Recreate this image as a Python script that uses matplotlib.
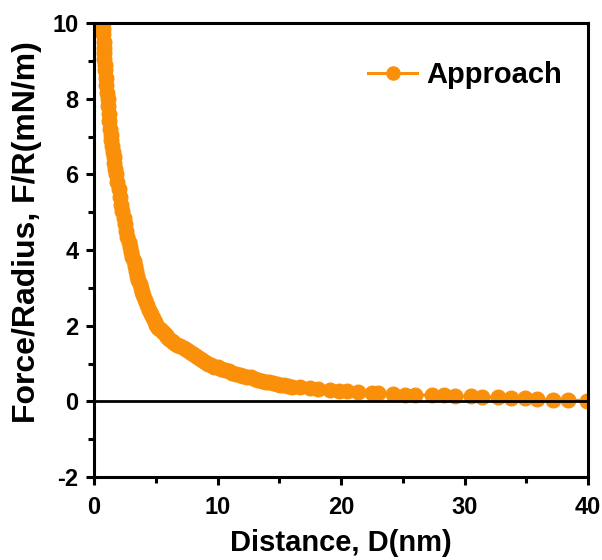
import matplotlib.pyplot as plt
from matplotlib.ticker import MultipleLocator

# approach curve
distance = [0.70, 0.72, 0.75, 0.78, 0.80, 0.83, 0.85, 0.88, 0.90, 0.95, 1.00, 1.05, 1.10,
            1.15, 1.20, 1.25, 1.30, 1.35, 1.40, 1.45, 1.50, 1.58, 1.65, 1.72, 1.80, 1.90,
            2.00, 2.10, 2.20, 2.30, 2.40, 2.50, 2.60, 2.70, 2.80, 2.90, 3.00, 3.10, 3.20,
            3.30, 3.40, 3.50, 3.60, 3.70, 3.80, 3.90, 4.00, 4.15, 4.30, 4.45, 4.60, 4.75,
            4.90, 5.05, 5.20, 5.35, 5.50, 5.65, 5.80, 5.95, 6.10, 6.30, 6.50, 6.75, 7.00,
            7.25, 7.50, 7.75, 8.00, 8.25, 8.50, 8.75, 9.00, 9.25, 9.50, 9.75, 10.0, 10.3,
            10.6, 10.9, 11.2, 11.5, 11.8, 12.1, 12.4, 12.7, 13.0, 13.3, 13.6, 13.9, 14.2,
            14.5, 14.8, 15.1, 15.4, 15.7, 16.0, 16.7, 17.5, 18.1, 19.1, 19.8, 20.5, 21.4,
            22.5, 23.0, 24.2, 25.2, 26.0, 27.4, 28.3, 29.2, 30.5, 31.4, 32.7, 33.8, 34.9,
            35.9, 37.2, 38.4, 39.9]
force = [10.0, 9.85, 9.70, 9.50, 9.35, 9.20, 9.05, 8.90, 8.75, 8.55, 8.35, 8.15, 8.00,
         7.80, 7.60, 7.40, 7.20, 7.05, 6.90, 6.75, 6.60, 6.45, 6.30, 6.15, 6.00, 5.80,
         5.60, 5.40, 5.20, 5.02, 4.85, 4.68, 4.50, 4.35, 4.20, 4.08, 3.95, 3.82, 3.70,
         3.57, 3.45, 3.32, 3.20, 3.10, 3.00, 2.90, 2.80, 2.68, 2.55, 2.42, 2.30, 2.20,
         2.10, 2.02, 1.95, 1.90, 1.85, 1.80, 1.75, 1.70, 1.65, 1.60, 1.55, 1.50, 1.45,
         1.40, 1.35, 1.30, 1.25, 1.20, 1.15, 1.10, 1.05, 1.00, 0.95, 0.92, 0.90, 0.86,
         0.83, 0.79, 0.76, 0.72, 0.70, 0.68, 0.65, 0.63, 0.60, 0.57, 0.55, 0.52, 0.50,
         0.48, 0.46, 0.44, 0.42, 0.40, 0.39, 0.37, 0.34, 0.32, 0.30, 0.28, 0.26, 0.24,
         0.22, 0.21, 0.19, 0.18, 0.17, 0.16, 0.16, 0.15, 0.13, 0.12, 0.11, 0.09, 0.08,
         0.05, 0.04, 0.03, 0.02]

orange = "#FA900A"

plt.rcParams['font.family'] = ['Liberation Sans', 'DejaVu Sans']
plt.rcParams['font.weight'] = 'bold'
plt.rcParams['axes.unicode_minus'] = False

fig = plt.figure(figsize=(6.02, 5.6), dpi=100)
ax = fig.add_axes([94 / 602, 1 - 477 / 560, 494 / 602, 454 / 560])

ax.plot(distance, force, "-o", color=orange, ms=10.5, lw=2.2, label="Approach")
ax.axhline(0, color="black", lw=2, zorder=3)

ax.set_xlim(0, 40)
ax.set_ylim(-2, 10)
ax.xaxis.set_major_locator(MultipleLocator(10))
ax.xaxis.set_minor_locator(MultipleLocator(5))
ax.yaxis.set_major_locator(MultipleLocator(2))
ax.yaxis.set_minor_locator(MultipleLocator(1))
ax.tick_params(which="major", direction="out", length=6, width=2.2, labelsize=17)
ax.tick_params(axis="y", which="major", pad=5)
ax.tick_params(axis="x", which="major", pad=8)
ax.tick_params(which="minor", direction="out", length=4, width=2.2)
for lab in ax.get_xticklabels() + ax.get_yticklabels():
    lab.set_fontweight("bold")
for sp in ax.spines.values():
    sp.set_linewidth(2.2)

ax.set_xlabel("Distance, D(nm)", fontsize=21, fontweight="bold", labelpad=7)
ax.set_ylabel("Force/Radius, F/R(mN/m)", fontsize=23, fontweight="bold")
ax.yaxis.set_label_coords(-0.105, 0.54)

leg = ax.legend(loc="center right", frameon=False, fontsize=21, handlelength=1.7,
                handletextpad=0.3, borderpad=0, borderaxespad=0,
                bbox_to_anchor=(0.947, 0.885), markerscale=0.9)
for t in leg.get_texts():
    t.set_fontweight("bold")

fig.savefig("out.png", dpi=100)
